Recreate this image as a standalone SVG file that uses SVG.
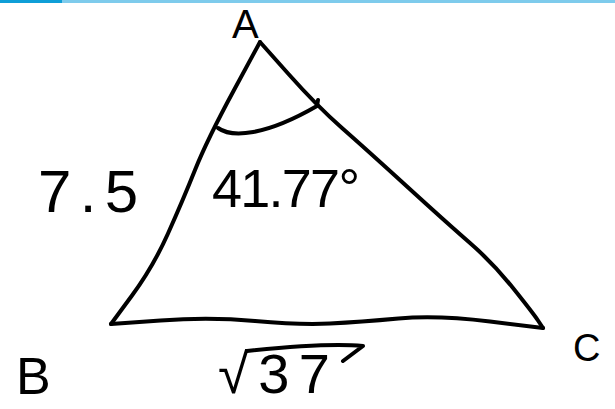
<svg xmlns="http://www.w3.org/2000/svg" width="615" height="409" viewBox="0 0 615 409">
  <style>
    .ink { fill: none; stroke: #000; stroke-width: 4; stroke-linecap: round; stroke-linejoin: round; }
    .lbl { font-family: "Liberation Sans", Arial, sans-serif; fill: #000; }
  </style>
  <rect x="0" y="0" width="615" height="409" fill="#fff"/>
  <rect x="0" y="0" width="615" height="3" fill="#7ecbec"/>
  <rect x="0" y="0" width="62" height="3" fill="#0e9ed7"/>
  <g id="connectors">
    <path id="side-AB" class="ink" d="M260,42 L233.5,91 Q207,140 195,170 Q183,200 168,233.5 Q153,267 132,295.5 L111,324"/>
    <path id="side-BC" class="ink" d="M111,324 L160.5,320.5 Q210,317 255,321 Q300,325 330,323.5 Q360,322 398.5,318.5 Q437,315 490,321.5 L543,328"/>
    <path id="side-AC" class="ink" d="M260,42 L288.5,74 Q317,106 342,128 Q367,150 407,186.5 Q447,223 470,243 Q493,263 513,288 Q533,313 538,320.5 L543,328"/>
    <path id="angle-arc" class="ink" d="M218,128 C232,138 265,136 317,106 L318,100"/>
  </g>
  <g id="vertex-A"><text class="lbl" x="232" y="38" font-size="40">A</text></g>
  <g id="vertex-B"><text class="lbl" x="16" y="394" font-size="52">B</text></g>
  <g id="vertex-C"><text class="lbl" x="573" y="361" font-size="38">C</text></g>
  <g id="label-AB"><text class="lbl" x="38" y="212" font-size="60" textLength="100" lengthAdjust="spacing">7.5</text></g>
  <g id="label-angle"><text class="lbl" x="212" y="207" font-size="54" textLength="148" lengthAdjust="spacing">41.77°</text></g>
  <g id="label-BC">
    <text class="lbl" x="218" y="393" font-size="56" textLength="112" lengthAdjust="spacing">√37</text>
    <path class="ink" d="M247,351 C285,347 330,343 363,346 L343,361"/>
  </g>
</svg>
